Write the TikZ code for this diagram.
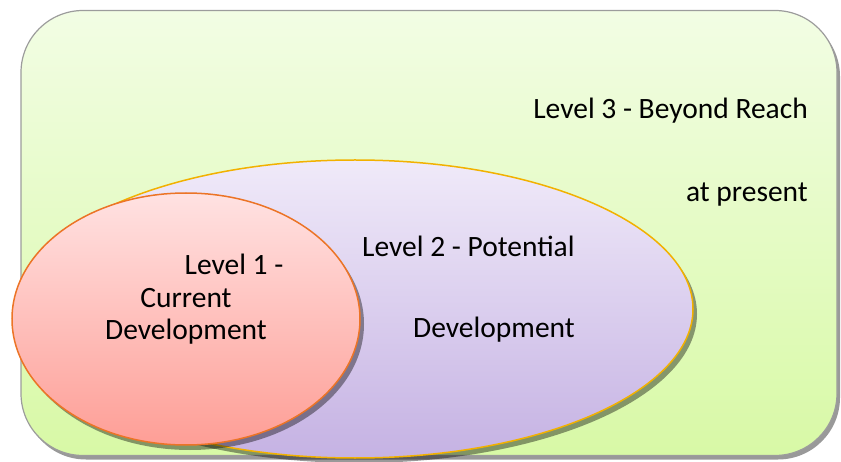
\documentclass[tikz,border=0pt]{standalone}
\usepackage{fontspec}
\setmainfont{Carlito}
\usetikzlibrary{shapes.geometric,shadows}
\definecolor{reachtop}{HTML}{F2FDE4}
\definecolor{reachbot}{HTML}{D8F9A6}
\definecolor{reachline}{HTML}{9C9C9C}
\definecolor{zpdtop}{HTML}{F0EAF9}
\definecolor{zpdbot}{HTML}{C5B2E3}
\definecolor{zpdline}{HTML}{F2B100}
\definecolor{zadtop}{HTML}{FFE2E2}
\definecolor{zadbot}{HTML}{FE9E96}
\definecolor{zadline}{HTML}{EC7426}
\tikzset{
    reach/.style={
        rectangle,
        draw=reachline,
        line width=1.2pt,
        rounded corners=62pt,
        top color=reachtop,
        bottom color=reachbot,
        drop shadow={shadow xshift=3pt,shadow yshift=-4pt,fill=black!40,opacity=1}
    },
    zone/.style={
        ellipse,
        line width=1.5pt,
        inner sep=0pt,
        drop shadow={shadow xshift=4pt,shadow yshift=-5pt,fill=black,opacity=.4}
    },
    label/.style={
        font=\fontsize{29.5pt}{34pt}\selectfont,
        inner sep=0pt
    }
}

\begin{document}
\begin{tikzpicture}[x=1pt,y=-1pt]
\useasboundingbox (0,0) rectangle (841,462);
\node[reach,minimum width=816pt,minimum height=445pt] (beyond) at (429,233) {};
\node[zone,draw=zpdline,top color=zpdtop,bottom color=zpdbot,
  minimum width=676pt,minimum height=298pt] (zpd) at (355,309) {};
\node[zone,draw=zadline,top color=zadtop,bottom color=zadbot,
  minimum width=348pt,minimum height=252pt] (zad) at (186,319) {};
\node[label,anchor=east] (l3a) at (808,111) {Level 3 - Beyond Reach};
\node[label,anchor=east] (l3b) at (808,195) {at present};
\node[label,anchor=west] (l2a) at (362,246) {Level 2 - Potential};
\node[label,anchor=east] (l2b) at (575,330) {Development};
\node[label] (l1a) at (234,264) {Level 1 -};
\node[label] (l1b) at (186,298) {Current};
\node[label] (l1c) at (186,332) {Development};
\end{tikzpicture}
\end{document}
